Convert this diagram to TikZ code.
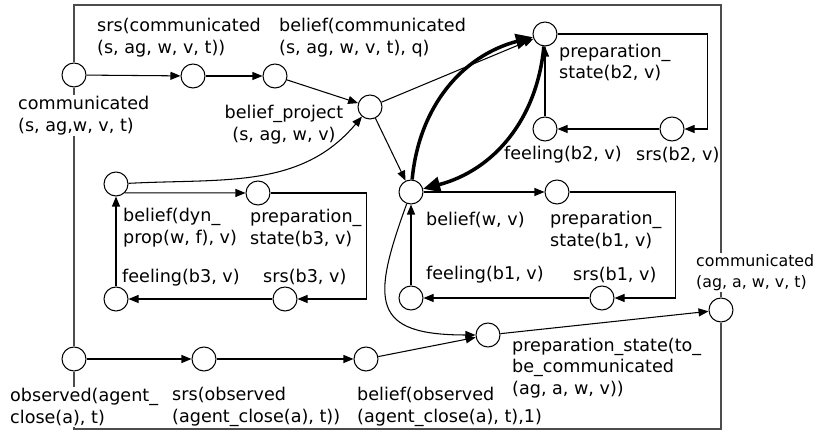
\documentclass[tikz,border=0pt]{standalone}
\usepackage{fontspec}
\setmainfont{DejaVu Sans}
\usepackage{tikz}
\usetikzlibrary{arrows.meta, positioning, calc}

\begin{document}
\begin{tikzpicture}[
  >={Triangle[length=0.2cm, width=0.16cm]},
  statecirc/.style={circle, draw=black, fill=white, minimum size=0.48cm, inner sep=0pt, line width=0.6pt},
  lbl/.style={align=left, anchor=west, inner sep=0.5pt, fill=white, font=\fontsize{10}{12.4}\selectfont},
  link/.style={->, line width=0.6pt},
  strong/.style={-{Triangle[length=0.34cm, width=0.3cm]}, line width=2pt, bend left=35},
  frame/.style={draw=black!70, line width=0.7pt}
]
  \useasboundingbox (0,0) rectangle (16.5,8.64);

  % Communication input chain
  \node[statecirc] (comm1) at (1.48, 7.14) {};
  \node[statecirc] (srs_comm) at (3.86, 7.12) {};
  \node[statecirc] (belief_comm) at (5.50, 7.12) {};
  \node[statecirc] (bproj) at (7.40, 6.50) {};

  % Loop b3
  \node[statecirc] (dyn) at (2.32, 4.96) {};
  \node[statecirc] (prep_b3) at (5.16, 4.78) {};
  \node[statecirc] (feeling_b3) at (2.32, 2.66) {};
  \node[statecirc] (srs_b3) at (5.70, 2.66) {};

  % Observation chain
  \node[statecirc] (observed) at (1.48, 1.46) {};
  \node[statecirc] (srs_obs) at (4.08, 1.46) {};
  \node[statecirc] (belief_obs) at (7.32, 1.46) {};

  % Loop b2
  \node[statecirc] (prep_b2) at (10.90, 7.96) {};
  \node[statecirc] (feeling_b2) at (10.90, 6.06) {};
  \node[statecirc] (srs_b2) at (13.44, 6.06) {};

  % Loop b1
  \node[statecirc] (belief_wv) at (8.22, 4.80) {};
  \node[statecirc] (prep_b1) at (11.14, 4.80) {};
  \node[statecirc] (feeling_b1) at (8.22, 2.68) {};
  \node[statecirc] (srs_b1) at (12.04, 2.68) {};

  % Output
  \node[statecirc] (prep_comm) at (9.76, 1.94) {};
  \node[statecirc] (comm_out) at (14.42, 2.44) {};

  % Outer frame
  \coordinate (tl) at (1.48, 8.54);
  \coordinate (tr) at (14.42, 8.54);
  \coordinate (bl) at (1.48, 0.06);
  \coordinate (br) at (14.42, 0.06);
  \draw[frame] (comm1) -- (tl) -- (tr) -- (comm_out);
  \draw[frame] (comm1) -- (observed);
  \draw[frame] (observed) -- (bl) -- (br) -- (comm_out);

  % Labels
  \node[lbl] (l_srs_comm) at (1.92, 7.89) {srs(communicated\\(s, ag, w, v, t))};
  \node[lbl] (l_belief_comm) at (5.56, 7.89) {belief(communicated\\(s, ag, w, v, t), q)};
  \node[lbl] (l_comm1) at (0.34, 6.33) {communicated\\(s, ag,w, v, t)};
  \node[lbl, align=center, anchor=center] (l_bproj) at (5.68, 6.15) {belief\_project\\(s, ag, w, v)};
  \node[lbl] (l_dyn) at (2.44, 4.08) {belief(dyn\_\\prop(w, f), v)};
  \node[lbl] (l_prep_b3) at (4.98, 4.08) {preparation\_\\state(b3, v)};
  \node[lbl] (l_feeling_b3) at (2.42, 3.08) {feeling(b3, v)};
  \node[lbl] (l_srs_b3) at (5.24, 3.10) {srs(b3, v)};
  \node[lbl] (l_observed) at (0.18, 0.50) {observed(agent\_\\close(a), t)};
  \node[lbl] (l_srs_obs) at (3.42, 0.50) {srs(observed\\(agent\_close(a), t))};
  \node[lbl] (l_belief_obs) at (7.12, 0.50) {belief(observed\\(agent\_close(a), t),1)};
  \node[lbl] (l_prep_comm) at (10.22, 1.28) {preparation\_state(to\_\\be\_communicated\\(ag, a, w, v))};
  \node[lbl, font=\fontsize{9}{12}\selectfont] (l_comm_out) at (13.90, 3.19) {communicated\\(ag, a, w, v, t)};
  \node[lbl] (l_prep_b2) at (11.16, 7.39) {preparation\_\\state(b2, v)};
  \node[lbl] (l_feeling_b2) at (10.06, 5.54) {feeling(b2, v)};
  \node[lbl] (l_srs_b2) at (12.70, 5.54) {srs(b2, v)};
  \node[lbl] (l_belief_wv) at (8.50, 4.24) {belief(w, v)};
  \node[lbl] (l_prep_b1) at (10.98, 4.04) {preparation\_\\state(b1, v)};
  \node[lbl] (l_feeling_b1) at (8.50, 3.14) {feeling(b1, v)};
  \node[lbl] (l_srs_b1) at (11.44, 3.14) {srs(b1, v)};

  % Communication chain arrows
  \draw[link] (comm1) -- (srs_comm);
  \draw[link] (srs_comm) -- (belief_comm);
  \draw[link] (belief_comm) -- (bproj);
  \draw[link] (bproj) -- (prep_b2);
  \draw[link] (bproj) -- (belief_wv);
  \draw[link] (dyn) to[out=3, in=-130] (bproj);

  % Loop b3
  \draw[link] (dyn.south east) -- (prep_b3);
  \draw[link] (prep_b3.east) -- ++(1.92,0) |- (srs_b3.east);
  \draw[link] (srs_b3) -- (feeling_b3);
  \draw[link] (feeling_b3) -- (dyn);

  % Loop b2
  \draw[link] (prep_b2.east) -- ++(3.00,0) |- (srs_b2.east);
  \draw[link] (srs_b2) -- (feeling_b2);
  \draw[link] (feeling_b2) -- (prep_b2);

  % Loop b1
  \draw[link] (belief_wv) -- (prep_b1);
  \draw[link] (prep_b1.east) -- ++(2.12,0) |- (srs_b1.east);
  \draw[link] (srs_b1) -- (feeling_b1);
  \draw[link] (feeling_b1) -- (belief_wv);

  % Strong mutual links
  \draw[strong] (belief_wv) to (prep_b2);
  \draw[strong] (prep_b2) to (belief_wv);

  % Observation chain and output
  \draw[link] (observed) -- (srs_obs);
  \draw[link] (srs_obs) -- (belief_obs);
  \draw[link] (belief_obs) -- (prep_comm);
  \draw[link] (belief_wv) to[out=-110, in=180, looseness=1.8] (prep_comm);
  \draw[link] (prep_comm) -- (comm_out);
\end{tikzpicture}
\end{document}
